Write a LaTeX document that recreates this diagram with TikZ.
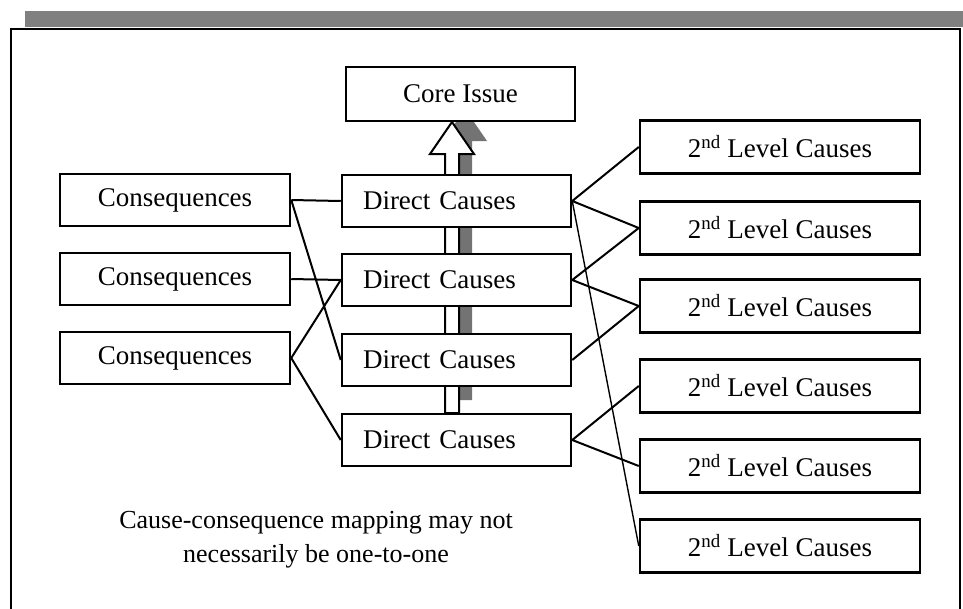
\documentclass[tikz,border=0pt]{standalone}
\usepackage{fontspec}
\setmainfont{Liberation Serif}
\begin{document}
\begin{tikzpicture}[x=1pt, y=-1pt, line join=miter, >=stealth,
	box/.style={draw, line width=2.5pt, fill=white, minimum height=52pt, inner sep=0pt, font=\fontsize{27}{32}\selectfont},
	conbox/.style={box, minimum width=230pt},
	dcbox/.style={box, text width=187pt, inner xsep=21pt, align=left},
	lvbox/.style={box, minimum width=280pt, minimum height=53pt},
	link/.style={line width=2pt}]
	\useasboundingbox (0,0) rectangle (963,608);
	\clip (0,0) rectangle (963,608);
	% frame and top band
	\fill[black!50] (25,11) rectangle (963,27);
	\draw[line width=2.8pt] (11,640) -- (11,29) -- (960,29) -- (960,640);
	% block arrow with its shadow
	\fill[black!55, shift={(13,-13)}] (452,122) -- (474,154) -- (459,154) -- (459,413) -- (445,413) -- (445,154) -- (430,154) -- cycle;
	\draw[fill=white, line width=2pt] (452,122) -- (474,154) -- (459,154) -- (459,413) -- (445,413) -- (445,154) -- (430,154) -- cycle;
	% boxes
	\node[box, minimum width=229pt, minimum height=54pt] (core) at (460.5,94) {Core Issue};
	\foreach \i/\y in {1/200,2/279,3/358}{\node[conbox] (C\i) at (175,\y) {Consequences};}
	\foreach \i/\y in {1/201,2/280,3/360,4/440}{\node[dcbox] (D\i) at (456.5,\y) {Direct Causes};}
	\foreach \i/\y in {1/147,2/228,3/306,4/386,5/466,6/546}{\node[lvbox] (L\i) at (780,\y) {2\textsuperscript{nd} Level Causes};}
	% links
	\draw[link] (C1.east)--(D1.west) (C1.east)--(D3.west) (C2.east)--(D2.west) (C3.east)--(D2.west) (C3.east)--(D4.west);
	\draw[link] (D1.east)--(L1.west) (D1.east)--(L2.west) (D2.east)--(L2.west) (D2.east)--(L3.west) (D3.east)--(L3.west) (D4.east)--(L4.west) (D4.east)--(L5.west);
	\draw[line width=1.4pt] (D1.east)--(L6.west);
	\node[align=center, font=\fontsize{26}{34}\selectfont] (note) at (316,540) {Cause-consequence mapping may not\\necessarily be one-to-one};
\end{tikzpicture}
\end{document}
